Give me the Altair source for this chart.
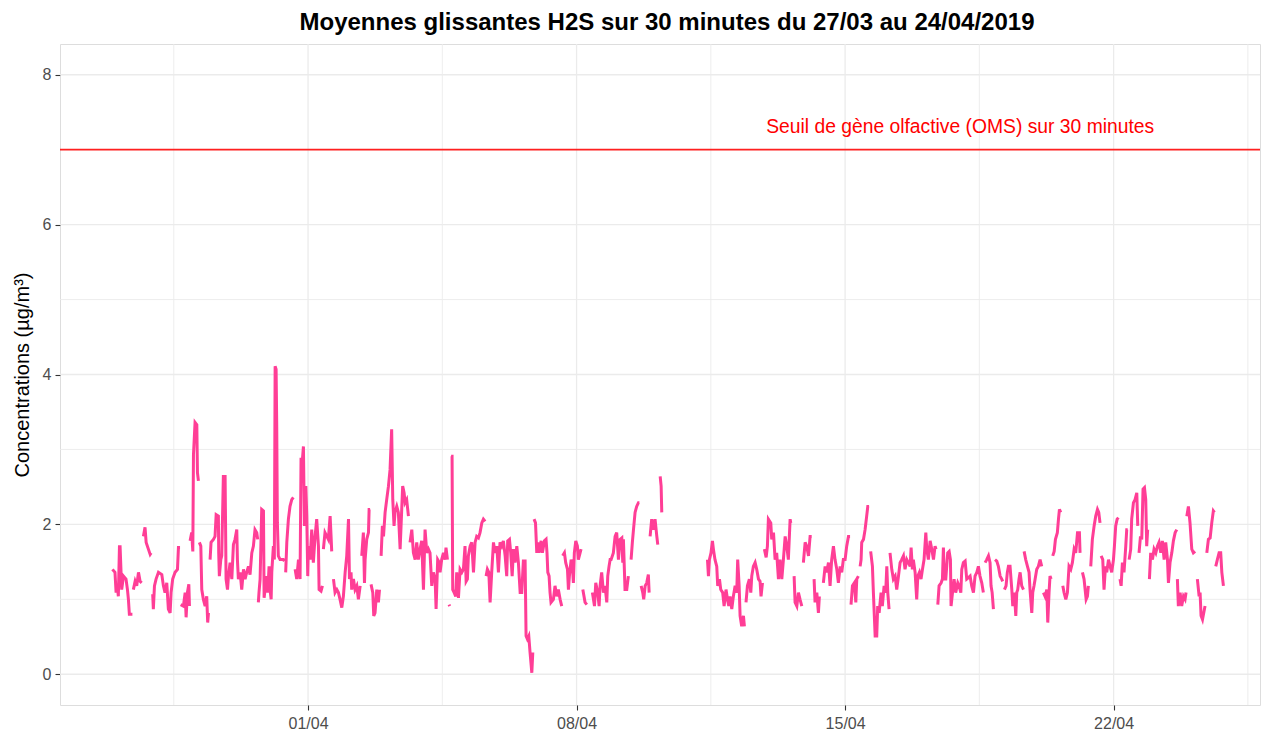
import altair as alt
import pandas as pd

TITLE = "Moyennes glissantes H2S sur 30 minutes du 27/03 au 24/04/2019"
Y_TITLE = "Concentrations (µg/m³)"
THRESHOLD = 7
THRESHOLD_LABEL = "Seuil de gène olfactive (OMS) sur 30 minutes"
LABEL_TIME = "2019-04-18 00:00"
LABEL_Y = 7.3
START = "2019-03-27 00:00"

# hours since START, one inner list per unbroken piece of the series
hours = [
    [-2.4, -0.8, -0.1, 0.7, 1.3, 2.0, 2.4, 3.4, 4.5, 6.1, 7.0, 7.6, 8.2, 10.1],
    [10.7, 11.8, 12.8, 13.9, 14.9, 15.9],
    [17.0, 18.0, 18.7, 20.1, 21.2, 21.8],
    [22.8, 23.2, 23.9, 24.9, 26.4, 28.5, 29.5, 30.5, 31.6, 32.6, 33.7, 34.3, 35.3, 36.8, 38.3, 38.9, 39.9],
    [40.3, 42.0, 43.1, 43.7, 44.5, 45.4, 45.8],
    [46.2, 47.2, 47.9, 48.3, 49.3, 50.4, 50.8, 51.4],
    [52.0, 52.9, 53.5, 54.5, 55.6, 56.6, 57.2, 57.7],
    [58.7, 59.3, 60.8, 61.8, 62.5, 63.9, 64.1, 64.5, 65.4, 66.0, 67.0, 68.1, 68.7, 69.6, 70.2, 71.2, 72.3, 73.3, 74.3, 75.4, 75.8, 76.4, 77.5, 78.5, 79.6, 80.6, 81.6, 82.7, 83.7, 84.8, 85.8, 86.8, 87.9, 88.5],
    [88.9, 89.3, 90.0, 91.0, 92.1, 92.5, 93.1, 94.1, 94.8, 95.6, 96.2, 96.9, 97.3, 98.3, 98.9, 99.4, 100.0, 100.4, 100.8, 101.4, 102.5, 104.6, 105.2],
    [106.0, 106.7, 107.7, 108.7, 109.8, 110.8],
    [111.9, 112.9, 114.0, 115.0, 115.6, 116.5, 117.1, 117.7, 118.1, 118.6, 119.2, 119.8, 120.2, 121.3, 122.3, 123.3, 124.4, 125.4, 126.5, 126.9, 128.1, 129.0],
    [129.6, 130.6, 132.7, 133.8, 134.4, 134.8],
    [135.9, 136.9, 138.0, 139.0, 140.0, 141.1, 142.1, 143.2, 144.2, 145.3, 145.9, 146.9, 147.3, 148.4, 149.4, 150.5, 151.5, 152.6],
    [153.6, 154.6, 155.3, 155.7, 156.7, 157.8, 158.2, 158.8],
    [159.4, 160.5, 161.1, 161.9, 163.0, 164.0, 164.7],
    [165.7, 166.5, 167.2, 168.2, 169.2, 170.3, 171.3, 172.3, 173.0, 173.8, 174.4, 175.5, 176.5, 177.6, 178.6, 179.2, 180.1, 180.7, 181.7, 182.8],
    [183.8, 184.9, 185.9, 187.0, 188.0, 189.0, 190.1, 191.1, 192.2, 193.2, 194.3, 195.3, 196.3, 197.4, 198.4, 199.5, 200.1, 201.1, 202.2, 202.6, 203.6, 204.7, 205.7, 206.3, 207.2],
    [208.2, 208.6],
    [209.5, 210.1, 210.5, 211.4, 212.4, 213.0, 214.1, 215.1, 216.2, 217.2, 218.2, 218.9, 219.7, 220.3, 221.4, 222.4, 223.5, 224.5, 225.5, 226.6, 227.6, 228.7, 229.7, 230.8],
    [231.4, 232.2, 233.1, 233.9, 234.9, 236.0, 237.0, 238.1, 239.1, 240.1, 241.2, 242.2, 243.3, 244.3, 244.9, 246.0, 246.8, 247.7, 248.5, 249.5, 250.6, 251.6, 252.7, 253.7, 254.7, 255.8, 256.4, 257.2, 258.1, 258.9, 260.0, 260.6],
    [261.4, 262.3, 263.1, 263.7, 264.5, 265.8, 266.6, 267.9, 268.9, 269.5, 270.0, 270.8, 271.4, 272.0, 273.5, 274.5, 275.6, 276.6, 277.7, 278.7],
    [279.3, 280.4, 281.2, 282.3, 282.9, 283.5, 284.6, 285.4, 286.0, 286.6, 287.5, 288.5, 289.1, 290.2, 290.8],
    [291.9, 293.3, 294.4],
    [297.9, 299.2, 300.0, 301.2, 302.1, 302.7, 303.7, 304.8, 305.8, 306.9, 307.5, 308.3, 309.0, 309.6, 311.0, 312.1, 313.1, 314.2, 315.2, 316.3, 316.9, 317.3, 317.9, 318.3, 319.4, 320.4],
    [322.1, 322.9, 323.6, 324.6, 325.6, 326.7, 327.3],
    [328.4, 329.4, 330.0, 330.9, 331.9, 332.9, 333.4],
    [334.0, 335.0, 336.1, 337.1, 338.2, 338.8],
    [340.3, 340.9, 341.3],
    [369.9, 370.5, 371.1, 372.1, 373.0, 373.6, 374.6, 375.7, 376.3, 377.4, 378.2, 379.4, 380.3, 381.5, 382.4, 383.2, 384.0, 385.1, 386.1, 387.2, 388.2, 388.8, 389.7, 390.3, 391.3, 392.4, 393.0],
    [394.0, 394.9, 396.1, 397.0, 397.6, 398.6, 399.7, 400.7, 401.8, 402.8, 403.4, 404.3],
    [405.5, 406.6, 407.4, 408.0, 409.5, 410.1, 411.2, 412.2, 413.2, 414.3, 415.3, 416.4, 417.4, 418.5, 419.5, 420.5, 421.6, 422.0],
    [424.1, 424.7, 425.8, 426.8, 427.8, 428.9],
    [429.9, 431.0, 432.0, 433.1, 434.1, 435.1],
    [436.6, 437.2, 438.3, 439.3, 439.9],
    [442.4, 443.5, 444.5, 445.6, 446.6, 447.6, 448.7, 449.7, 450.8, 451.8, 452.9, 453.9, 454.9, 456.0, 457.0, 458.1, 459.1],
    [459.7, 460.6, 461.8, 462.7, 463.3, 464.3],
    [465.4, 466.0, 466.4, 467.5, 468.5, 469.5, 470.2, 471.0],
    [472.0, 473.1, 473.7, 474.8, 475.8, 476.4, 477.3, 478.5, 479.3, 480.4, 481.4, 482.1, 482.7, 483.5],
    [484.1, 485.2, 486.2, 487.3, 488.3, 489.4, 490.4, 491.4, 492.5, 493.5, 494.6, 495.6, 496.7, 497.3, 498.1, 498.7, 499.8, 500.8, 501.5, 502.5, 503.5, 504.4, 505.4, 506.5, 507.1, 508.1, 509.2, 510.2, 511.3, 512.3, 512.9],
    [514.0, 514.8, 516.1, 516.9, 517.5, 518.1, 519.0, 520.2, 521.1, 521.9, 522.3, 523.2, 524.2, 525.2, 526.5, 527.3, 528.4, 529.0, 530.0, 531.1, 532.1, 533.2, 534.2, 535.2, 536.3, 537.3, 538.4, 539.4, 540.4, 541.5, 542.5],
    [543.6, 544.6, 545.7, 546.7, 547.3, 548.0, 548.8],
    [549.8, 550.9, 551.9, 553.0, 554.0, 554.6],
    [555.7, 556.7, 557.5, 558.2, 559.2, 560.3, 560.9, 561.9, 562.8, 563.4, 564.0, 564.8, 565.5, 566.5, 567.6],
    [568.0, 569.0, 570.1, 571.1, 571.7, 572.8, 573.4, 574.2, 574.9, 575.9, 576.9, 578.0, 579.0],
    [580.1, 581.1, 582.2, 582.8, 583.6, 584.2, 584.9],
    [585.9, 586.8, 587.6, 588.8, 589.5, 590.1, 590.9],
    [592.2, 593.0, 594.1, 595.1, 596.1, 597.2, 598.2, 599.3, 600.3, 601.4, 602.6, 603.0],
    [604.5, 605.5, 606.8, 607.6, 608.2],
    [609.7, 610.7, 611.8, 612.8, 613.9, 614.7, 615.5],
    [616.2, 617.2, 618.0, 618.9, 619.7, 620.8, 621.8, 622.8, 623.9, 624.5, 625.3, 626.2, 627.0],
    [628.0, 628.7, 629.5, 630.5, 631.6, 632.2, 632.8],
    [633.7, 634.7, 635.3, 636.4, 637.4, 638.5, 639.1],
    [639.9, 640.8, 641.6, 642.4, 643.3, 644.1, 644.7, 645.3],
    [646.4, 647.2, 648.3, 649.3, 650.4, 651.4, 652.4, 653.5, 654.5, 655.6, 656.6, 657.7, 658.3, 659.3, 660.4, 661.4, 662.5, 663.5],
    [663.9, 664.5, 665.6, 666.6, 667.7, 668.7, 669.3],
    [669.8, 670.8, 671.8, 672.9, 673.9, 675.0],
    [676.4, 677.5, 678.1, 678.7, 679.6, 680.4, 681.2],
    [682.3, 683.3, 684.4, 685.4, 686.4, 687.1],
    [687.9, 688.9, 690.0, 691.0, 691.7, 692.7],
]

# H2S 30-minute rolling means (µg/m³), same shape as hours
conc = [
    [1.40, 1.36, 1.09, 1.18, 1.04, 1.70, 1.70, 1.13, 1.31, 1.27, 1.13, 1.00, 0.80, 0.80],
    [1.13, 1.24, 1.18, 1.36, 1.24, 1.22],
    [1.84, 1.96, 1.76, 1.67, 1.60, 1.62],
    [1.07, 0.87, 1.18, 1.27, 1.36, 1.33, 1.18, 1.09, 1.22, 0.87, 0.82, 1.09, 1.27, 1.36, 1.40, 1.69, 1.69],
    [0.93, 0.91, 1.09, 0.76, 1.09, 1.20, 0.91],
    [1.78, 1.89, 1.64, 2.93, 3.36, 3.33, 2.69, 2.58],
    [1.76, 1.71, 1.13, 1.00, 0.91, 1.04, 0.69, 0.82],
    [1.53, 1.76, 1.80, 1.84, 2.13, 2.11, 1.62, 1.31, 1.53, 1.58, 2.64, 2.64, 1.27, 1.13, 1.31, 1.49, 1.27, 1.73, 1.80, 1.93, 1.53, 1.27, 1.36, 1.13, 1.40, 1.27, 1.36, 1.44, 1.33, 1.62, 1.71, 1.93, 1.89, 1.80],
    [0.96, 1.09, 1.27, 2.20, 2.18, 1.02, 1.13, 1.31, 1.09, 1.44, 1.13, 1.00, 1.36, 1.71, 1.53, 4.11, 4.07, 3.31, 2.02, 1.58, 1.53, 1.53, 1.51],
    [1.36, 1.76, 2.07, 2.24, 2.33, 2.36],
    [1.40, 1.27, 1.53, 1.27, 2.87, 2.87, 3.04, 1.98, 2.24, 2.51, 2.11, 1.31, 1.71, 1.53, 1.93, 1.49, 1.84, 2.07, 1.71, 1.13, 1.11, 1.18],
    [1.67, 1.89, 1.80, 2.11, 1.84, 1.64],
    [1.27, 1.09, 1.13, 1.09, 1.00, 0.89, 1.04, 1.36, 1.58, 2.07, 1.27, 1.36, 1.13, 1.27, 1.13, 1.18, 1.00, 1.18],
    [1.58, 1.89, 1.22, 1.53, 1.80, 1.89, 2.20, 2.20],
    [1.20, 1.09, 0.78, 0.82, 1.13, 0.96, 1.13],
    [1.58, 1.98, 1.84, 2.16, 2.33, 2.51, 2.73, 3.27, 2.33, 1.98, 2.16, 2.24, 2.16, 1.67, 2.20, 2.51, 2.42, 2.29, 2.33, 2.11],
    [1.76, 1.93, 1.62, 1.53, 1.76, 1.53, 1.67, 1.78, 1.13, 1.93, 1.62, 1.67, 1.62, 1.18, 1.36, 1.27, 0.87, 1.53, 1.49, 1.36, 1.53, 1.62, 1.53, 1.69, 1.53],
    [0.93, 0.91],
    [2.91, 2.91, 1.13, 1.09, 1.04, 1.36, 1.02, 1.40, 1.36, 1.40, 1.71, 1.24, 1.27, 1.58, 1.71, 1.76, 1.36, 1.76, 1.84, 1.82, 1.89, 2.02, 2.07, 2.04],
    [1.31, 1.40, 1.36, 0.96, 1.36, 1.76, 1.62, 1.71, 1.36, 1.76, 1.71, 1.78, 1.58, 1.31, 1.78, 1.80, 1.62, 1.31, 1.67, 1.49, 1.71, 1.49, 1.09, 1.09, 1.51, 1.51, 0.51, 0.47, 0.51, 0.29, 0.02, 0.29],
    [2.07, 2.02, 1.62, 1.76, 1.62, 1.78, 1.62, 1.78, 1.80, 1.62, 1.36, 1.31, 1.09, 0.96, 1.00, 1.18, 1.04, 1.13, 1.00, 0.91],
    [1.58, 1.62, 1.49, 1.40, 1.13, 1.31, 1.53, 1.44, 1.22, 1.62, 1.78, 1.71, 1.53, 1.62, 1.67],
    [1.13, 0.96, 0.93],
    [1.09, 0.91, 1.22, 1.09, 0.91, 1.18, 1.36, 1.09, 1.18, 0.96, 1.31, 1.44, 1.53, 1.53, 1.62, 1.84, 1.89, 1.53, 1.80, 1.82, 1.49, 1.80, 1.40, 1.13, 1.13, 1.31],
    [1.53, 1.76, 1.93, 2.16, 2.24, 2.29, 2.29],
    [1.18, 1.09, 1.00, 1.18, 1.22, 1.33, 1.09],
    [1.84, 2.07, 1.93, 2.07, 1.84, 1.73],
    [2.64, 2.51, 2.16],
    [1.53, 1.31, 1.53, 1.62, 1.78, 1.67, 1.53, 1.44, 1.18, 1.27, 1.13, 1.09, 0.91, 1.13, 1.00, 0.91, 1.04, 0.87, 1.04, 1.18, 1.09, 1.53, 1.18, 0.78, 0.64, 0.78, 0.64],
    [0.96, 1.18, 1.27, 1.09, 1.31, 1.44, 1.49, 1.40, 1.27, 1.24, 1.04, 1.22],
    [1.67, 1.56, 1.71, 2.07, 2.02, 1.80, 1.89, 1.53, 1.62, 1.27, 1.53, 1.27, 1.53, 1.84, 1.71, 1.53, 2.07, 2.02],
    [1.31, 0.96, 0.91, 1.09, 1.00, 0.91],
    [1.49, 1.76, 1.71, 1.58, 1.84, 1.84],
    [1.27, 0.96, 1.09, 0.82, 1.04],
    [1.22, 1.44, 1.36, 1.49, 1.18, 1.53, 1.71, 1.53, 1.40, 1.22, 1.44, 1.36, 1.53, 1.53, 1.71, 1.84, 1.84],
    [0.93, 1.18, 1.22, 0.96, 1.27, 1.31],
    [1.44, 1.53, 1.76, 1.80, 1.93, 2.11, 2.24, 2.24],
    [1.64, 1.44, 1.09, 0.51, 0.51, 0.91, 0.82, 1.09, 0.91, 1.18, 1.09, 1.44, 1.09, 0.87],
    [1.62, 1.40, 1.27, 1.31, 1.13, 1.31, 1.49, 1.53, 1.58, 1.40, 1.53, 1.49, 1.44, 1.69, 1.40, 1.53, 1.36, 1.00, 1.31, 1.36, 1.27, 1.40, 1.53, 1.89, 1.67, 1.53, 1.78, 1.67, 1.53, 1.71, 1.67],
    [0.93, 1.18, 1.22, 1.27, 1.69, 1.27, 1.27, 1.62, 1.64, 1.53, 0.91, 1.09, 1.27, 1.09, 1.22, 1.18, 1.09, 1.40, 1.49, 1.51, 1.27, 1.29, 1.31, 1.18, 1.09, 1.31, 1.36, 1.44, 1.31, 1.22, 1.09],
    [1.49, 1.53, 1.58, 1.49, 1.18, 1.09, 0.87],
    [1.53, 1.51, 1.44, 1.31, 1.27, 1.24],
    [1.13, 1.18, 1.36, 1.44, 1.44, 1.13, 0.91, 1.09, 0.78, 1.09, 1.13, 1.27, 1.36, 1.18, 1.13],
    [1.64, 1.53, 1.44, 1.36, 1.13, 0.82, 1.09, 1.18, 1.27, 1.40, 1.44, 1.53, 1.44],
    [1.09, 1.04, 1.13, 0.69, 1.09, 1.31, 1.27],
    [1.58, 1.64, 1.80, 1.89, 2.07, 2.20, 2.16],
    [1.18, 1.09, 1.00, 1.09, 1.44, 1.40, 1.49, 1.67, 1.62, 1.89, 1.89, 1.62],
    [1.36, 1.27, 1.00, 1.04, 1.18],
    [1.44, 1.80, 1.98, 2.11, 2.20, 2.16, 2.02],
    [1.58, 1.53, 1.13, 1.44, 1.36, 1.53, 1.44, 1.36, 1.53, 1.71, 1.98, 2.07, 2.09],
    [1.27, 1.18, 1.49, 1.36, 1.71, 1.93, 1.93],
    [1.53, 1.67, 2.07, 2.29, 2.33, 2.42, 1.98],
    [1.62, 1.84, 1.80, 2.47, 2.49, 2.33, 1.71, 1.93],
    [1.27, 1.62, 1.53, 1.67, 1.62, 1.71, 1.76, 1.62, 1.78, 1.53, 1.76, 1.53, 1.22, 1.49, 1.62, 1.78, 1.89, 1.93],
    [1.27, 0.91, 1.09, 0.91, 1.04, 1.00, 1.09],
    [2.11, 2.24, 2.02, 1.67, 1.62, 1.64],
    [1.27, 1.04, 1.09, 0.78, 0.73, 0.82, 0.91],
    [1.62, 1.80, 1.82, 2.02, 2.18, 2.16],
    [1.44, 1.53, 1.62, 1.62, 1.36, 1.18],
]

x_major = ["2019-04-01 00:00", "2019-04-08 00:00", "2019-04-15 00:00", "2019-04-22 00:00"]
x_minor = ["2019-03-28 12:00", "2019-04-04 12:00", "2019-04-11 12:00", "2019-04-18 12:00", "2019-04-25 12:00"]
y_major = [0, 2, 4, 6, 8]
y_minor = [1, 3, 5, 7]
x_limits = ["2019-03-25 12:48", "2019-04-25 19:35"]
y_limits = [-0.41, 8.41]

# ---- build tables ----
rows = []
start = pd.Timestamp(START)
for seg_id, (hs, vs) in enumerate(zip(hours, conc)):
    n = min(len(hs), len(vs))
    for h, v in zip(hs[:n], vs[:n]):
        rows.append({"time": start + pd.Timedelta(hours=h), "conc": v, "seg": seg_id})
df = pd.DataFrame(rows)

def dt(s):
    t = pd.Timestamp(s)
    return alt.DateTime(year=t.year, month=t.month, date=t.day, hours=t.hour, minutes=t.minute)

x_scale = alt.Scale(domain=[dt(x_limits[0]), dt(x_limits[1])], nice=False)
y_scale = alt.Scale(domain=y_limits, nice=False, zero=False)

FONT = "Liberation Sans"
x_axis = alt.Axis(
    values=[dt(s) for s in x_major], format="%d/%m", title=None, grid=False, domain=False,
    labelFont=FONT, labelFontSize=16, labelColor="#4D4D4D", labelPadding=5,
    tickColor="#333333", tickSize=5, tickWidth=1.1,
)
y_axis = alt.Axis(
    values=y_major, title=Y_TITLE, grid=False, domain=False,
    labelFont=FONT, labelFontSize=16, labelColor="#4D4D4D", labelPadding=4,
    tickColor="#333333", tickSize=5, tickWidth=1.1,
    titleFont=FONT, titleFontSize=20, titleFontWeight="normal", titleColor="#000000",
    titleAngle=270, titleX=-37.5, titleY=330.5, titleAlign="center", titleBaseline="middle",
)

X = lambda f: alt.X(f, type="temporal", scale=x_scale, axis=x_axis)
Y = lambda f: alt.Y(f, type="quantitative", scale=y_scale, axis=y_axis)

gx_major = pd.DataFrame({"d": [pd.Timestamp(s) for s in x_major]})
gx_minor = pd.DataFrame({"d": [pd.Timestamp(s) for s in x_minor]})
gy_major = pd.DataFrame({"v": y_major})
gy_minor = pd.DataFrame({"v": y_minor})

grid_col = "#EBEBEB"
l_gym = alt.Chart(gy_minor).mark_rule(color=grid_col, strokeWidth=0.9).encode(y=Y("v"))
l_gyM = alt.Chart(gy_major).mark_rule(color=grid_col, strokeWidth=1.3).encode(y=Y("v"))
l_gxm = alt.Chart(gx_minor).mark_rule(color=grid_col, strokeWidth=0.9).encode(x=X("d"))
l_gxM = alt.Chart(gx_major).mark_rule(color=grid_col, strokeWidth=1.3).encode(x=X("d"))

line = alt.Chart(df).mark_line(color="#FF3E96", strokeWidth=3, strokeJoin="miter").encode(
    x=X("time"), y=Y("conc"), detail="seg:N"
)

thr = alt.Chart(pd.DataFrame({"v": [THRESHOLD]})).mark_rule(color="#FF2020", strokeWidth=1.6).encode(y=Y("v"))

lbl = alt.Chart(pd.DataFrame({"t": [pd.Timestamp(LABEL_TIME)], "v": [LABEL_Y], "s": [THRESHOLD_LABEL]})).mark_text(
    color="#FF0000", font=FONT, fontSize=19.3, align="center", baseline="middle"
).encode(x=X("t"), y=Y("v"), text="s:N")

chart = alt.layer(l_gym, l_gyM, l_gxm, l_gxM, line, thr, lbl).properties(
    width=1200, height=661,
    title=alt.TitleParams(TITLE, font=FONT, fontSize=24, fontWeight="bold", color="#000000",
                          anchor="middle", frame="group", offset=8, baseline="alphabetic",
                          dy=19, dx=7),
    autosize=alt.AutoSizeParams(type="none"),
    padding={"left": 52, "top": 36, "right": 1, "bottom": 30},
).configure_view(stroke="#333333", strokeWidth=1.3).configure(background="white")

chart.save("out.html", embed_options={"renderer": "svg", "actions": False})
